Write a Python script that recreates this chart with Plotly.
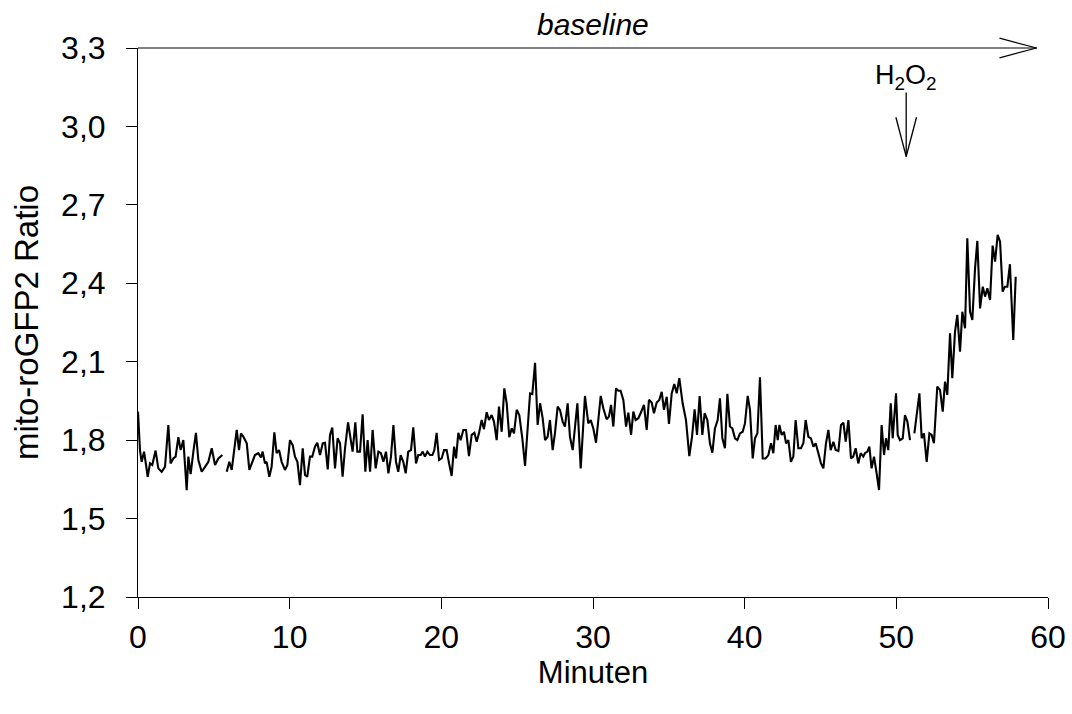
import plotly.graph_objects as go

# ---- data (minutes, mito-roGFP2 ratio); None marks gaps in the recording ----
minutes = [
    0.00, 0.13, 0.24, 0.40, 0.53, 0.64, 0.79, 0.94, 1.16, 1.34, 1.56, 1.78, 2.00, 2.15, 2.33, 2.48,
    2.66, 2.81, 2.99, 3.10, 3.21, 3.32, 3.47, 3.65, 3.82, 3.98, 4.20, 4.42, 4.64, 4.86, 5.08, 5.30,
    5.56, 5.70, 5.85, 6.02, 6.18, 6.33, 6.51, 6.66, 6.79, 6.95, 7.17, 7.34, 7.54, 7.71, 7.93, 8.11,
    8.22, 8.37, 8.48, 8.66, 8.81, 8.99, 9.14, 9.30, 9.47, 9.69,
    9.85, 10.02, 10.20, 10.35, 10.51, 10.68, 10.86, 11.01, 11.16, 11.34, 11.49, 11.67, 11.82, 12.00,
    12.18, 12.33, 12.51, 12.66, 12.81, 12.99, 13.16, 13.32, 13.49, 13.65, 13.85, 14.02, 14.15, 14.33,
    14.46, 14.64, 14.81, 14.99, 15.14, 15.30, 15.47, 15.67, 15.85, 16.02, 16.18, 16.35, 16.51, 16.68,
    16.84, 17.01, 17.16, 17.32, 17.49, 17.65, 17.82, 18.00, 18.15, 18.33, 18.48, 18.64, 18.77, 18.92,
    19.08, 19.25,
    19.41, 19.54, 19.69, 19.85, 20.02, 20.18, 20.35, 20.51, 20.68, 20.84, 20.97, 21.12, 21.27, 21.45,
    21.63, 21.82, 22.00, 22.18, 22.33, 22.48, 22.66, 22.81, 22.99, 23.14, 23.32, 23.47, 23.65, 23.80,
    23.98, 24.15, 24.31, 24.48, 24.64, 24.79, 24.97, 25.14, 25.34, 25.52, 25.69, 25.85, 26.00, 26.18,
    26.35, 26.51, 26.68, 26.84, 27.01, 27.16, 27.34, 27.49, 27.67, 27.82, 28.00, 28.15, 28.33, 28.48,
    28.66,
    28.97, 29.19, 29.47, 29.69, 29.85, 30.02, 30.20, 30.51, 30.68, 30.90, 31.05, 31.19, 31.34, 31.52,
    31.67, 31.82, 32.00, 32.18, 32.33, 32.51, 32.66, 32.81, 32.99, 33.14, 33.36, 33.54, 33.69, 33.87,
    34.02, 34.20, 34.37, 34.53, 34.68, 34.86, 35.01, 35.19, 35.36, 35.52, 35.69, 35.91, 36.13, 36.35,
    36.53, 36.70, 36.86, 37.03, 37.21, 37.36, 37.54, 37.71, 37.87, 38.04, 38.22, 38.37,
    38.53, 38.70, 38.86, 39.03, 39.19, 39.36, 39.52, 39.69, 39.87, 40.02, 40.20, 40.35, 40.53, 40.68,
    40.84, 41.01, 41.19, 41.38, 41.56, 41.74, 41.89, 42.04, 42.18, 42.29, 42.44, 42.59, 42.73, 42.88,
    43.05, 43.21, 43.36, 43.54, 43.71, 43.87, 44.02, 44.20, 44.37, 44.53, 44.68, 44.86, 45.03, 45.19,
    45.36, 45.52, 45.67, 45.85, 46.00, 46.18, 46.35, 46.51, 46.66, 46.84, 47.01, 47.16, 47.32, 47.49,
    47.65, 47.82,
    47.93, 48.09, 48.22, 48.37, 48.53, 48.70, 48.86, 49.03, 49.19, 49.32, 49.47, 49.63, 49.76, 49.98,
    50.09, 50.24, 50.42, 50.57, 50.73, 50.90, 51.05,
    51.19, 51.34, 51.52, 51.67, 51.82, 52.00, 52.18, 52.33, 52.48, 52.70, 52.88, 53.06, 53.21, 53.36,
    53.54, 53.69, 53.87, 54.02, 54.20, 54.35, 54.53, 54.68, 54.86, 55.01, 55.19, 55.34, 55.52, 55.70,
    55.85, 56.00, 56.18, 56.35, 56.51, 56.68, 56.84, 57.01, 57.16, 57.32, 57.49, 57.71, 57.87,
]

ratio = [
    1.909, 1.762, 1.717, 1.756, 1.705, 1.660, 1.711, 1.705, 1.760, 1.692, 1.679, 1.698, 1.858, 1.711, 1.730, 1.737,
    1.811, 1.762, 1.800, 1.711, 1.609, 1.737, 1.670, 1.756, 1.828, 1.724, 1.679, 1.698, 1.717, 1.769, 1.705, 1.730,
    1.743, None, 1.679, 1.717, 1.686, 1.762, 1.839, 1.762, 1.826, 1.813, 1.788, 1.686, 1.717, 1.743, 1.750, 1.734,
    1.756, 1.711, 1.717, 1.660, 1.698, 1.830, 1.750, 1.762, 1.717, 1.686,
    1.705, 1.800, 1.781, 1.737, 1.717, 1.628, 1.769, 1.667, 1.660, 1.737, 1.737, 1.775, 1.790, 1.743,
    1.788, 1.790, 1.688, 1.820, 1.848, 1.692, 1.807, 1.788, 1.660, 1.769, 1.868, 1.800, 1.756, 1.868,
    1.756, 1.756, 1.899, 1.679, 1.800, 1.679, 1.839, 1.692, 1.756, 1.750, 1.717, 1.756, 1.673, 1.737,
    1.858, 1.717, 1.679, 1.743, 1.717, 1.673, 1.756, 1.762, 1.849, 1.711, 1.743, 1.743, 1.756, 1.737,
    1.756, 1.743,
    1.743, 1.762, 1.828, 1.724, 1.730, 1.762, 1.762, 1.711, 1.663, 1.775, 1.730, 1.828, 1.800, 1.839,
    1.839, 1.739, 1.820, 1.828, 1.794, 1.826, 1.877, 1.842, 1.907, 1.877, 1.896, 1.871, 1.800, 1.928,
    1.832, 1.998, 1.941, 1.811, 1.845, 1.826, 1.916, 1.896, 1.807, 1.701, 1.845, 1.979, 1.976, 2.096,
    1.858, 1.941, 1.884, 1.800, 1.813, 1.877, 1.762, 1.826, 1.928, 1.916, 1.871, 1.852, 1.941, 1.813,
    1.762,
    1.941, 1.692, 1.969, 1.864, 1.877, 1.845, 1.790, 1.969, 1.922, 1.880, 1.890, 1.935, 1.852, 1.998,
    1.989, 1.989, 1.954, 1.852, 1.905, 1.820, 1.909, 1.877, 1.884, 1.903, 1.935, 1.839, 1.954, 1.944,
    1.903, 1.944, 1.954, 1.985, 1.916, 1.966, 1.862, 1.979, 2.015, 1.979, 2.037, 1.941, 1.877, 1.739,
    1.813, 1.918, 1.820, 1.969, 1.820, 1.903, 1.877, 1.788, 1.752, 1.845, 1.877, 1.960,
    1.807, 1.769, 1.977, 1.852, 1.845, 1.807, 1.800, 1.826, 1.832, 1.864, 1.969, 1.916, 1.730, 1.807,
    1.826, 2.040, 1.730, 1.730, 1.743, 1.788, 1.750, 1.858, 1.800, 1.858, 1.820, 1.832, 1.788, 1.800,
    1.717, 1.737, 1.877, 1.769, 1.769, 1.788, 1.877, 1.813, 1.807, 1.775, 1.788, 1.750, 1.711, 1.692,
    1.788, 1.839, 1.762, 1.794, 1.762, 1.758, 1.858, 1.867, 1.794, 1.877, 1.730, 1.737, 1.769, 1.711,
    1.750, 1.737,
    1.750, 1.756, 1.775, 1.692, 1.737, 1.673, 1.609, 1.858, 1.743, 1.807, 1.762, 1.941, 1.807, 1.979,
    1.820, 1.800, 1.807, 1.896, 1.871, 1.800, None,
    1.826, 1.896, 1.979, 1.807, 1.826, 1.717, 1.826, 1.820, 1.788, 2.005, 1.992, 1.909, 2.024, 1.973,
    2.209, 2.037, 2.215, 2.279, 2.138, 2.291, 2.228, 2.572, 2.291, 2.260, 2.457, 2.562, 2.304, 2.387,
    2.349, 2.381, 2.336, 2.544, 2.483, 2.585, 2.559, 2.368, 2.387, 2.387, 2.473, 2.183, 2.425,
]

x_ticks = [0, 10, 20, 30, 40, 50, 60]
y_ticks = [1.2, 1.5, 1.8, 2.1, 2.4, 2.7, 3.0, 3.3]
x_range = [0, 60]
y_range = [1.2, 3.3]

# annotation anchors (data units)
baseline_end = 59.25      # minute where the "baseline" arrow ends
h2o2_time = 50.65         # minute of H2O2 addition
h2o2_arrow_top = 3.13
h2o2_arrow_tip = 2.885

FONT = "Liberation Sans, Arial, sans-serif"

fig = go.Figure()
fig.add_trace(go.Scatter(
    x=minutes, y=ratio, mode="lines",
    line=dict(color="black", width=2.1),
    connectgaps=False, showlegend=False, hoverinfo="skip",
))

axis_common = dict(
    showgrid=False, zeroline=False, showline=True, linecolor="black", linewidth=1,
    ticks="outside", ticklen=11, tickwidth=1, tickcolor="black", automargin=False,
    tickfont=dict(family=FONT, size=32, color="black"),
)

fig.update_layout(
    width=1072, height=714,
    paper_bgcolor="white", plot_bgcolor="white",
    margin=dict(l=138, r=24, t=48, b=117),
    separators=",.",
    xaxis=dict(range=x_range, tickvals=x_ticks, ticklabelstandoff=1,
               title=dict(text="Minuten", font=dict(family=FONT, size=31, color="black"), standoff=6),
               **axis_common),
    yaxis=dict(range=y_range, tickvals=y_ticks, tickformat=".1f", ticklabelstandoff=14,
               title=dict(text="mito-roGFP2 Ratio", font=dict(family=FONT, size=33, color="black"), standoff=12),
               **axis_common),
)

# "baseline" arrow along the top edge (open arrow head)
arm_dx = 2.45
arm_dy = 0.018
fig.add_shape(type="line", xref="x", yref="paper", x0=0, x1=baseline_end, y0=1, y1=1,
              line=dict(color="black", width=1.2))
fig.add_shape(type="line", xref="x", yref="paper", x0=baseline_end - arm_dx, x1=baseline_end,
              y0=1 + arm_dy, y1=1, line=dict(color="black", width=1.2))
fig.add_shape(type="line", xref="x", yref="paper", x0=baseline_end - arm_dx, x1=baseline_end,
              y0=1 - arm_dy, y1=1, line=dict(color="black", width=1.2))
fig.add_annotation(text="<i>baseline</i>", xref="x", yref="paper", x=30, y=1.043,
                   showarrow=False, yanchor="middle",
                   font=dict(family=FONT, size=30, color="black"))

# H2O2 arrow
fig.add_shape(type="line", x0=h2o2_time, x1=h2o2_time, y0=h2o2_arrow_top, y1=h2o2_arrow_tip,
              line=dict(color="black", width=1.3))
fig.add_shape(type="line", x0=h2o2_time - 0.68, x1=h2o2_time, y0=h2o2_arrow_tip + 0.15,
              y1=h2o2_arrow_tip, line=dict(color="black", width=1.3))
fig.add_shape(type="line", x0=h2o2_time + 0.68, x1=h2o2_time, y0=h2o2_arrow_tip + 0.15,
              y1=h2o2_arrow_tip, line=dict(color="black", width=1.3))
fig.add_annotation(text="H<sub>2</sub>O<sub>2</sub>", x=h2o2_time, y=h2o2_arrow_top,
                   showarrow=False, yanchor="bottom", yshift=-4,
                   font=dict(family=FONT, size=27, color="black"))

fig.write_html("out.html")
